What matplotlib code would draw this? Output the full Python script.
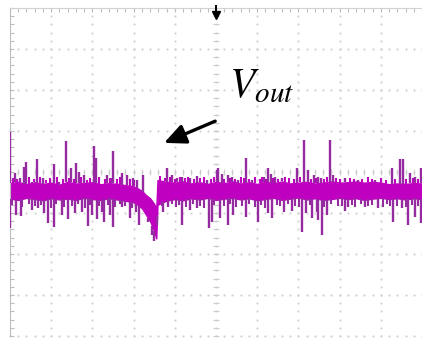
import numpy as np
import matplotlib.pyplot as plt
from matplotlib.ticker import MultipleLocator

# scope screen: 10 x 8 divisions, trace values in divisions
band_t = [0.0, 0.2, 0.4, 0.6, 0.8, 1.0, 1.2, 1.4, 1.6, 1.8, 2.0, 2.2, 2.4, 2.6, 2.8, 3.0,
          3.1, 3.2, 3.3, 3.4, 3.5, 3.55, 3.58, 3.7, 3.8,
          4.0, 4.2, 4.4, 4.6, 4.8, 5.0, 5.2, 5.4, 5.6, 5.8, 6.0, 6.2, 6.4, 6.6, 6.8, 7.0,
          7.2, 7.4, 7.6, 7.8, 8.0, 8.2, 8.4, 8.6, 8.8, 9.0, 9.2, 9.4, 9.6, 9.8, 10.0]
band_hi = [-0.27, -0.24, -0.30, -0.25, -0.29, -0.26, -0.31, -0.24, -0.28, -0.27, -0.25, -0.30, -0.27, -0.29, -0.32, -0.35,
           -0.40, -0.46, -0.56, -0.64, -0.78, -0.90, -0.20, -0.22, -0.24,
           -0.26, -0.23, -0.28, -0.25, -0.29, -0.24, -0.27, -0.23, -0.28, -0.25, -0.29, -0.24, -0.27, -0.23, -0.28, -0.26,
           -0.24, -0.28, -0.26, -0.23, -0.26, -0.25, -0.23, -0.26, -0.24, -0.26, -0.30, -0.28, -0.29, -0.27, -0.28]
band_lo = [-0.65, -0.68, -0.63, -0.66, -0.69, -0.64, -0.67, -0.65, -0.68, -0.63, -0.66, -0.68, -0.64, -0.67, -0.70, -0.74,
           -0.80, -0.88, -1.04, -1.20, -1.44, -1.62, -0.80, -0.74, -0.70,
           -0.66, -0.69, -0.64, -0.67, -0.63, -0.68, -0.65, -0.63, -0.67, -0.64, -0.69, -0.66, -0.63, -0.68, -0.65, -0.62,
           -0.67, -0.64, -0.68, -0.66, -0.63, -0.66, -0.64, -0.68, -0.65, -0.63, -0.66, -0.64, -0.67, -0.64, -0.66]

# tall spikes
up_t = [0.00, 0.12, 0.24, 0.34, 0.39, 0.53, 0.66, 0.80, 1.07, 1.19, 1.36, 1.48, 1.60, 1.67, 1.80, 2.04, 2.09, 2.35,
        2.48, 2.50, 2.72, 2.84, 2.99, 3.08, 3.23, 3.81, 3.93, 4.05, 4.17, 4.37, 4.54, 4.78, 5.02, 5.05, 5.15, 5.29,
        5.39, 5.53, 5.73, 5.87, 6.17, 6.26, 6.33, 6.43, 6.60, 6.97, 7.14, 7.23, 7.38, 7.48, 7.55, 7.77, 7.84, 8.13,
        8.45, 8.86, 9.27, 9.47, 9.54, 9.71, 9.83, 9.98]
up_v = [0.98, -0.02, -0.15, 0.12, 0.24, -0.24, 0.32, -0.15, 0.20, -0.24, 0.76, 0.10, 0.22, 0.00, -0.07, 0.63, 0.34, -0.07,
        -0.15, 0.51, -0.02, -0.07, -0.15, -0.20, -0.07, 0.10, -0.07, -0.15, -0.12, -0.15, -0.10, -0.20, 0.05, 0.10, -0.05, -0.07,
        -0.12, -0.20, 0.34, -0.20, -0.12, 0.10, -0.05, -0.12, -0.15, 0.10, 0.78, 0.05, -0.07, -0.12, -0.15, 0.78, -0.07, -0.15,
        -0.20, -0.20, 0.10, 0.32, 0.32, -0.02, -0.12, 0.10]

down_t = [0.00, 0.15, 0.27, 0.53, 0.68, 0.83, 0.92, 1.07, 1.26, 1.41, 1.58, 1.75, 1.89, 1.99, 2.11, 2.23, 2.28, 2.43,
          2.50, 2.72, 2.91, 3.06, 3.13, 3.23, 3.35, 3.45, 3.50, 3.57, 3.71, 3.83, 4.17, 4.37, 4.54, 4.83, 4.90,
          5.10, 5.29, 5.41, 5.73, 6.02, 6.26, 6.36, 6.65, 6.84, 7.09, 7.18, 7.33, 7.45, 7.48, 7.57,
          7.69, 8.13, 8.20, 8.62, 8.93, 9.30, 9.51, 9.66, 9.83, 9.98]
down_v = [-1.37, -1.05, -1.07, -0.93, -0.88, -1.00, -1.24, -1.34, -1.05, -1.15, -1.00, -0.98, -1.32, -1.05, -1.15, -0.98, -1.22, -1.05,
          -1.34, -0.85, -1.12, -0.98, -1.29, -0.93, -1.22, -1.54, -1.68, -1.29, -0.98, -0.85, -1.29, -0.93, -0.88, -1.37, -1.22,
          -1.12, -1.29, -1.05, -1.10, -1.22, -1.00, -1.12, -0.98, -0.95, -1.46, -1.00, -1.12, -0.98, -1.17, -1.54,
          -1.05, -0.95, -0.85, -0.85, -0.88, -1.22, -0.88, -1.29, -1.10, -1.24]

# short spikes along the edges of the band
small_up_t = [0.08, 0.18, 0.46, 0.58, 0.72, 0.88, 0.97, 1.14, 1.28, 1.44, 1.55, 1.72, 1.86, 1.93, 2.15, 2.30, 2.42,
              2.60, 2.66, 2.92, 3.00, 3.65, 3.75, 3.88, 4.00, 4.12, 4.24, 4.31, 4.46, 4.62, 4.70, 4.88, 4.96, 5.20,
              5.34, 5.46, 5.60, 5.68, 5.80, 5.95, 6.07, 6.12, 6.22, 6.38, 6.50, 6.68, 6.78, 6.90, 7.04, 7.30, 7.43,
              7.62, 7.70, 7.92, 8.00, 8.25, 8.35, 8.55, 8.68, 8.78, 9.00, 9.12, 9.35, 9.60, 9.78, 9.90]
small_up_v = [-0.14, -0.18, -0.12, -0.17, -0.13, -0.19, -0.15, -0.12, -0.18, -0.14, -0.16, -0.12, -0.19, -0.15, -0.13, -0.17, -0.14,
              -0.18, -0.12, -0.16, -0.19, -0.10, -0.14, -0.12, -0.17, -0.13, -0.15, -0.11, -0.18, -0.14, -0.12, -0.16, -0.13, -0.18,
              -0.14, -0.17, -0.12, -0.15, -0.18, -0.13, -0.16, -0.12, -0.17, -0.14, -0.18, -0.12, -0.15, -0.17, -0.13, -0.16, -0.14,
              -0.18, -0.12, -0.15, -0.17, -0.14, -0.18, -0.16, -0.13, -0.17, -0.15, -0.19, -0.16, -0.18, -0.14, -0.17]
small_dn_t = [0.05, 0.30, 0.45, 0.60, 0.75, 1.00, 1.12, 1.32, 1.50, 1.65, 1.82, 1.95, 2.16, 2.38, 2.56, 2.66, 2.80,
              2.95, 3.70, 3.92, 4.02, 4.10, 4.28, 4.45, 4.62, 4.70, 4.95, 5.20, 5.35, 5.48, 5.62, 5.80, 5.95, 6.10,
              6.20, 6.48, 6.55, 6.75, 6.92, 7.02, 7.28, 7.62, 7.80, 7.95, 8.05, 8.30, 8.38, 8.53, 8.70, 8.78, 9.05,
              9.15, 9.22, 9.40, 9.60, 9.75, 9.90]
small_dn_v = [-0.80, -0.86, -0.78, -0.84, -0.81, -0.88, -0.79, -0.85, -0.82, -0.77, -0.87, -0.80, -0.84, -0.81, -0.86, -0.78, -0.83,
              -0.89, -0.84, -0.79, -0.86, -0.81, -0.85, -0.78, -0.83, -0.87, -0.80, -0.84, -0.79, -0.86, -0.82, -0.78, -0.85,
              -0.81, -0.87, -0.80, -0.84, -0.78, -0.83, -0.86, -0.81, -0.85, -0.79, -0.84, -0.82, -0.80, -0.86, -0.78, -0.83,
              -0.81, -0.85, -0.79, -0.84, -0.82, -0.86, -0.80, -0.83]

trace_col = '#bf00c0'
spike_col = '#962aa0'
grid_col = '#cdcdcd'

fig = plt.figure(figsize=(4.22, 3.38), dpi=100)
ax = fig.add_axes([10 / 422, 2 / 338, 412 / 422, 328 / 338])
ax.set_xlim(0, 10)
ax.set_ylim(-4, 4)

# dotted graticule
minor_t = np.arange(0, 10.001, 0.2)
minor_v = np.arange(-4, 4.001, 0.2)
for v in range(-4, 4):
    ax.plot(minor_t, np.full_like(minor_t, v), ls='none', marker='s', ms=1.3,
            mec='none', color=grid_col, zorder=0, clip_on=False)
for t in range(1, 10):
    ax.plot(np.full_like(minor_v, t), minor_v, ls='none', marker='s', ms=1.3,
            mec='none', color=grid_col, zorder=0)
# centre cross tick marks
ax.plot(minor_t, np.zeros_like(minor_t), ls='none', marker='|', ms=4, mew=0.8,
        color=grid_col, zorder=0)
ax.plot(np.full_like(minor_v, 5), minor_v, ls='none', marker='_', ms=4, mew=0.8,
        color=grid_col, zorder=0)

ax.xaxis.set_major_locator(MultipleLocator(1))
ax.yaxis.set_major_locator(MultipleLocator(1))
ax.xaxis.set_minor_locator(MultipleLocator(0.2))
ax.yaxis.set_minor_locator(MultipleLocator(0.2))
ax.tick_params(which='both', direction='in', length=3, width=0.8, color='#bdbdbd',
               top=True, bottom=False, right=False, labelbottom=False, labelleft=False)
for side in ('right', 'bottom'):
    ax.spines[side].set_visible(False)
ax.spines['left'].set_color('#bdbdbd')
ax.spines['top'].set_color('#d2d2d2')

# trace: noise band plus spikes
ax.fill_between(band_t, band_lo, band_hi, color=trace_col, lw=1.0, zorder=2)
ax.vlines(small_up_t, np.interp(small_up_t, band_t, band_hi), small_up_v,
          color=trace_col, lw=1.5, zorder=2)
ax.vlines(small_dn_t, np.interp(small_dn_t, band_t, band_lo), small_dn_v,
          color=spike_col, lw=1.5, zorder=2)
mid_up = np.interp(up_t, band_t, band_hi)
mid_dn = np.interp(down_t, band_t, band_lo)
ax.vlines(up_t, mid_up, up_v, color=spike_col, lw=1.7, zorder=3)
ax.vlines(down_t, mid_dn, down_v, color=spike_col, lw=1.7, zorder=3)

# trigger marker
ax.plot([5, 5], [4.06, 3.88], color='k', lw=1.4, clip_on=False, zorder=5)
ax.plot([5], [3.82], marker='v', ms=6, color='k', clip_on=False, zorder=5)

# label and arrow
plt.rcParams['mathtext.fontset'] = 'stix'
ax.text(5.32, 1.83, r'$V_{out}$', fontsize=30, ha='left', va='baseline', zorder=6)
ax.annotate('', xy=(3.74, 0.71), xytext=(4.98, 1.24),
            arrowprops=dict(arrowstyle='-|>,head_length=0.65,head_width=0.3',
                            lw=2.4, color='k', mutation_scale=20,
                            shrinkA=0, shrinkB=0), zorder=6)

fig.savefig('out.png', dpi=100)
